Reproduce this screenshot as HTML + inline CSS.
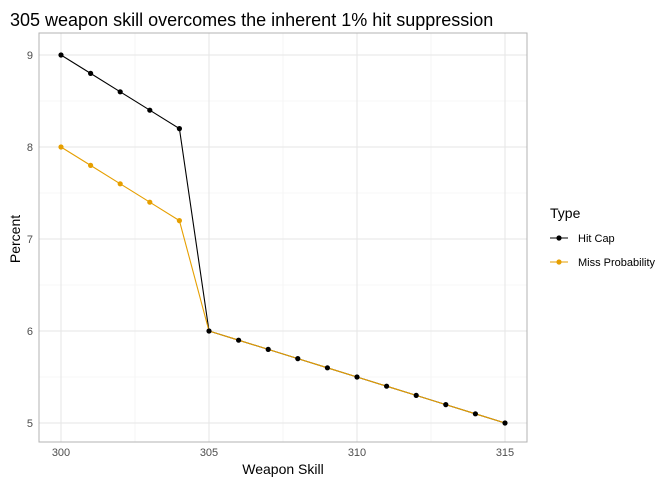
<!DOCTYPE html>
<html><head><style>body{margin:0;background:#fff}svg text{font-family:"Liberation Sans",sans-serif}</style></head><body>
<svg width="668" height="486" xmlns="http://www.w3.org/2000/svg">
<rect width="668" height="486" fill="#fff"/>
<text x="10" y="26" font-size="18" fill="#000">305 weapon skill overcomes the inherent 1% hit suppression</text>
<g stroke="#f0f0f0" stroke-width="0.6">
<line x1="39" x2="527" y1="101" y2="101"/><line x1="39" x2="527" y1="193" y2="193"/><line x1="39" x2="527" y1="285" y2="285"/><line x1="39" x2="527" y1="377" y2="377"/>
<line x1="135" x2="135" y1="33" y2="442"/><line x1="283" x2="283" y1="33" y2="442"/><line x1="431" x2="431" y1="33" y2="442"/>
</g>
<g stroke="#e5e5e5" stroke-width="1">
<line x1="39" x2="527" y1="55" y2="55"/><line x1="39" x2="527" y1="147" y2="147"/><line x1="39" x2="527" y1="239" y2="239"/><line x1="39" x2="527" y1="331" y2="331"/><line x1="39" x2="527" y1="423" y2="423"/>
<line x1="61" x2="61" y1="33" y2="442"/><line x1="209" x2="209" y1="33" y2="442"/><line x1="357" x2="357" y1="33" y2="442"/><line x1="505" x2="505" y1="33" y2="442"/>
</g>
<rect x="39" y="33" width="488" height="409" fill="none" stroke="#b3b3b3" stroke-width="1"/>
<g font-size="11" fill="#4d4d4d" text-anchor="end">
<text x="33" y="59">9</text><text x="33" y="151">8</text><text x="33" y="243">7</text><text x="33" y="335">6</text><text x="33" y="427">5</text>
</g>
<g font-size="11" fill="#4d4d4d" text-anchor="middle">
<text x="61" y="456">300</text><text x="209" y="456">305</text><text x="357" y="456">310</text><text x="505" y="456">315</text>
</g>
<text x="283" y="474" font-size="14" text-anchor="middle">Weapon Skill</text>
<text x="0" y="0" font-size="14" text-anchor="middle" transform="translate(20,239) rotate(-90)">Percent</text>
<polyline fill="none" stroke="#000" stroke-width="1.1" points="61,55 90.6,73.4 120.2,91.8 149.8,110.2 179.4,128.6 209,331 238.6,340.2 268.2,349.4 297.8,358.6 327.4,367.8 357,377 386.6,386.2 416.2,395.4 445.8,404.6 475.4,413.8 505,423"/>
<polyline fill="none" stroke="#E69F00" stroke-width="1.1" points="61,147 90.6,165.4 120.2,183.8 149.8,202.2 179.4,220.6 209,331 238.6,340.2 268.2,349.4 297.8,358.6 327.4,367.8 357,377 386.6,386.2 416.2,395.4 445.8,404.6 475.4,413.8 505,423"/>
<g fill="#E69F00"><circle cx="61" cy="147" r="2.6"/><circle cx="90.6" cy="165.4" r="2.6"/><circle cx="120.2" cy="183.8" r="2.6"/><circle cx="149.8" cy="202.2" r="2.6"/><circle cx="179.4" cy="220.6" r="2.6"/></g>
<g fill="#000"><circle cx="61" cy="55" r="2.6"/><circle cx="90.6" cy="73.4" r="2.6"/><circle cx="120.2" cy="91.8" r="2.6"/><circle cx="149.8" cy="110.2" r="2.6"/><circle cx="179.4" cy="128.6" r="2.6"/><circle cx="209" cy="331" r="2.6"/><circle cx="238.6" cy="340.2" r="2.6"/><circle cx="268.2" cy="349.4" r="2.6"/><circle cx="297.8" cy="358.6" r="2.6"/><circle cx="327.4" cy="367.8" r="2.6"/><circle cx="357" cy="377" r="2.6"/><circle cx="386.6" cy="386.2" r="2.6"/><circle cx="416.2" cy="395.4" r="2.6"/><circle cx="445.8" cy="404.6" r="2.6"/><circle cx="475.4" cy="413.8" r="2.6"/><circle cx="505" cy="423" r="2.6"/></g>
<text x="550" y="218" font-size="14">Type</text>
<line x1="550" x2="568" y1="238" y2="238" stroke="#000" stroke-width="1.1"/><circle cx="559" cy="238" r="2.6" fill="#000"/>
<text x="578" y="242" font-size="11">Hit Cap</text>
<line x1="550" x2="568" y1="262" y2="262" stroke="#E69F00" stroke-width="1.1"/><circle cx="559" cy="262" r="2.6" fill="#E69F00"/>
<text x="578" y="266" font-size="11">Miss Probability</text>
</svg>
</body></html>
